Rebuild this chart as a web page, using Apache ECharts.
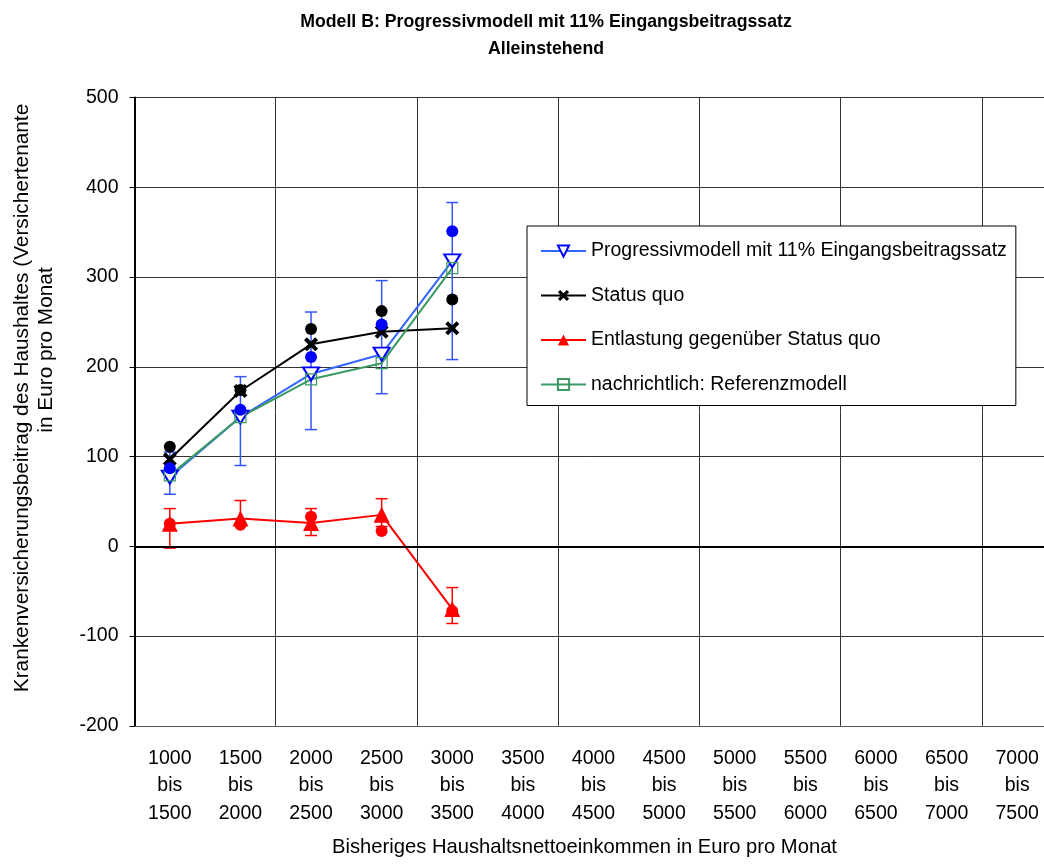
<!DOCTYPE html>
<html>
<head>
<meta charset="utf-8">
<script src="https://cdn.jsdelivr.net/npm/echarts@6/dist/echarts.min.js"></script>
<style>
  html, body { margin: 0; padding: 0; background: #fff; }
  #chart { width: 1044px; height: 864px; }
</style>
</head>
<body>
<div id="chart"></div>
<script>
// Kategorien (Haushaltsnettoeinkommen)
const categories = ['1000\nbis\n1500', '1500\nbis\n2000', '2000\nbis\n2500', '2500\nbis\n3000',
  '3000\nbis\n3500', '3500\nbis\n4000', '4000\nbis\n4500', '4500\nbis\n5000', '5000\nbis\n5500',
  '5500\nbis\n6000', '6000\nbis\n6500', '6500\nbis\n7000', '7000\nbis\n7500']
// Linien
const progressiv = [77, 144, 192, 214, 318]
const statusQuo = [97, 173, 225, 239, 243]
const entlastung = [25, 31, 26, 35, -70]
const referenz = [79, 144, 186, 204, 310]
// Einzelpunkte ohne Linie
const progressivPunkte = [87, 152, 211, 247, 351]
const statusQuoPunkte = [111, 174, 242, 262, 275]
const entlastungPunkte = [25, 24, 33, 17, -72]
// Fehlerbalken
const progressivUnten = [58, 90, 130, 170, 208]
const progressivOben = [105, 189, 261, 296, 383]
const entlastungUnten = [-2, 25, 12, 22, -86]
const entlastungOben = [42, 51, 42, 53, -46]
// y-Achse
const yMin = -200
const yMax = 500
const yStep = 100

const font = "'Liberation Sans', Arial, sans-serif"
const crossPath = 'path://M2,0 L5,3 L8,0 L10,2 L7,5 L10,8 L8,10 L5,7 L2,10 L0,8 L3,5 L0,2 Z'

function errorData (low, high) {
  return low.map((v, i) => [i, v, high[i]])
}

function errorSeries (name, low, high, color) {
  return {
    name: name,
    type: 'custom',
    z: 1,
    encode: { x: 0, y: [1, 2] },
    data: errorData(low, high),
    renderItem (params, api) {
      const x = api.value(0)
      const a = api.coord([x, api.value(1)])
      const b = api.coord([x, api.value(2)])
      const w = 6
      const style = { stroke: color, lineWidth: 1.5 }
      return {
        type: 'group',
        children: [
          { type: 'line', shape: { x1: a[0], y1: a[1], x2: b[0], y2: b[1] }, style: style },
          { type: 'line', shape: { x1: a[0] - w, y1: a[1], x2: a[0] + w, y2: a[1] }, style: style },
          { type: 'line', shape: { x1: b[0] - w, y1: b[1], x2: b[0] + w, y2: b[1] }, style: style }
        ]
      }
    }
  }
}

function dots (name, values, color) {
  return {
    name: name,
    type: 'scatter',
    data: values,
    symbol: 'circle',
    symbolSize: 12,
    itemStyle: { color: color, opacity: 1 },
    z: 4
  }
}

const chart = echarts.init(document.getElementById('chart'))
chart.setOption({
  animation: false,
  backgroundColor: '#fff',
  textStyle: { fontFamily: font },
  title: {
    text: 'Modell B: Progressivmodell mit 11% Eingangsbeitragssatz\nAlleinstehend',
    left: 546,
    top: 9,
    padding: 0,
    textAlign: 'center',
    textStyle: { fontFamily: font, fontSize: 17.7, fontWeight: 'bold', color: '#000', lineHeight: 27 }
  },
  legend: {
    orient: 'vertical',
    left: 527,
    top: 226,
    padding: [15, 9, 11, 13],
    itemWidth: 45,
    itemHeight: 14,
    itemGap: 24.5,
    backgroundColor: '#fff',
    borderColor: '#000',
    borderWidth: 1,
    borderRadius: 0,
    data: ['Progressivmodell mit 11% Eingangsbeitragssatz', 'Status quo',
      'Entlastung gegenüber Status quo', 'nachrichtlich: Referenzmodell'],
    textStyle: { fontFamily: font, fontSize: 19.5, color: '#000', lineHeight: 20 }
  },
  grid: { left: 134.5, top: 97.5, width: 918, height: 628.3, outerBoundsMode: 'none', containLabel: false },
  xAxis: {
    type: 'category',
    data: categories,
    boundaryGap: true,
    axisLine: { onZero: false, lineStyle: { color: '#555', width: 1 } },
    axisTick: { show: false },
    axisLabel: {
      interval: 0,
      margin: 19,
      fontFamily: font,
      fontSize: 19.5,
      lineHeight: 27.5,
      color: '#000'
    },
    splitLine: { show: true, interval: 1, lineStyle: { color: '#333', width: 1 } }
  },
  yAxis: {
    type: 'value',
    min: yMin,
    max: yMax,
    interval: yStep,
    axisLine: { show: true, lineStyle: { color: '#000', width: 2 } },
    axisTick: { show: true, inside: false, length: 5, lineStyle: { color: '#000' } },
    axisLabel: { margin: 16, fontFamily: font, fontSize: 19.5, color: '#000' },
    splitLine: { show: true, lineStyle: { color: '#333', width: 1 } }
  },
  graphic: [
    {
      type: 'text',
      x: 22,
      y: 398,
      rotation: Math.PI / 2,
      style: {
        text: 'Krankenversicherungsbeitrag des Haushaltes (Versichertenante',
        font: '20.8px ' + font,
        fill: '#000',
        align: 'center',
        verticalAlign: 'middle'
      }
    },
    {
      type: 'text',
      x: 46,
      y: 350,
      rotation: Math.PI / 2,
      style: {
        text: 'in Euro pro Monat',
        font: '20.8px ' + font,
        fill: '#000',
        align: 'center',
        verticalAlign: 'middle'
      }
    },
    {
      type: 'text',
      x: 584.5,
      y: 847,
      style: {
        text: 'Bisheriges Haushaltsnettoeinkommen in Euro pro Monat',
        font: '20.2px ' + font,
        fill: '#000',
        align: 'center',
        verticalAlign: 'middle'
      }
    }
  ],
  series: [
    errorSeries('Fehler Progressiv', progressivUnten, progressivOben, '#3355ff'),
    errorSeries('Fehler Entlastung', entlastungUnten, entlastungOben, '#ff0000'),
    {
      name: 'Progressivmodell mit 11% Eingangsbeitragssatz',
      type: 'line',
      data: progressiv,
      symbol: 'triangle',
      symbolRotate: 180,
      symbolSize: [16, 13],
      showAllSymbol: true,
      lineStyle: { color: '#3366ff', width: 2 },
      itemStyle: { color: '#fff', borderColor: '#0000ff', borderWidth: 2 },
      z: 3
    },
    {
      name: 'Status quo',
      type: 'line',
      data: statusQuo,
      symbol: crossPath,
      symbolSize: 14,
      lineStyle: { color: '#000', width: 2 },
      itemStyle: { color: '#000' },
      z: 3
    },
    {
      name: 'Entlastung gegenüber Status quo',
      type: 'line',
      data: entlastung,
      symbol: 'triangle',
      symbolSize: 16,
      lineStyle: { color: '#ff0000', width: 2 },
      itemStyle: { color: '#ff0000' },
      z: 3,
      markLine: {
        silent: true,
        symbol: 'none',
        label: { show: false },
        lineStyle: { color: '#000', width: 2, type: 'solid' },
        data: [{ yAxis: 0 }]
      }
    },
    {
      name: 'nachrichtlich: Referenzmodell',
      type: 'line',
      data: referenz,
      symbol: 'rect',
      symbolSize: 11,
      lineStyle: { color: '#3a9a62', width: 2 },
      itemStyle: { color: 'rgba(255,255,255,0)', borderColor: '#3a9a62', borderWidth: 1.2 },
      z: 3
    },
    dots('Punkte Status quo', statusQuoPunkte, '#000'),
    dots('Punkte Progressiv', progressivPunkte, '#0000ff'),
    dots('Punkte Entlastung', entlastungPunkte, '#ff0000')
  ]
})
</script>
</body>
</html>
